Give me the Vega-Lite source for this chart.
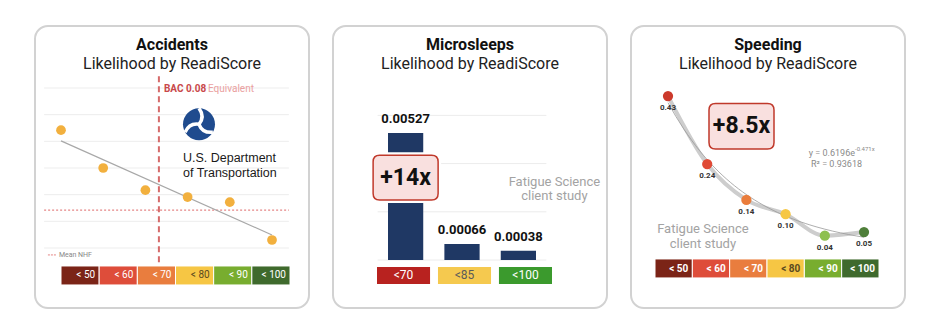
{
  "$schema": "https://vega.github.io/schema/vega-lite/v6.json",
  "background": "white",
  "padding": {"left": 34, "top": 25, "right": 0, "bottom": 0},
  "spacing": 22,
  "resolve": {"scale": {"x": "independent", "y": "independent", "color": "independent", "fill": "independent"}},
  "hconcat": [
    {
      "width": 274,
      "height": 282,
      "title": {"text": "Accidents", "subtitle": "Likelihood by ReadiScore"},
      "data": {"values": [
        {"band": "< 50", "bin_no": 1, "likelihood": 4.42},
        {"band": "< 60", "bin_no": 2, "likelihood": 3.0},
        {"band": "< 70", "bin_no": 3, "likelihood": 2.17},
        {"band": "< 80", "bin_no": 4, "likelihood": 1.91},
        {"band": "< 90", "bin_no": 5, "likelihood": 1.72},
        {"band": "< 100", "bin_no": 6, "likelihood": 0.3}
      ]},
      "resolve": {"scale": {"x": "independent"}},
      "layer": [
        {
          "layer": [
            {
              "data": {"values": [{"grid": 0}, {"grid": 1}, {"grid": 2}, {"grid": 3}, {"grid": 4}, {"grid": 5}, {"grid": 6}]},
              "mark": {"type": "rule", "color": "#ededed", "strokeWidth": 1},
              "encoding": {
                "x": {"datum": 0.6, "type": "quantitative", "scale": {"domain": [1, 6], "range": [26, 237], "nice": false, "zero": false}},
                "x2": {"datum": 6.4},
                "y": {"field": "grid", "type": "quantitative", "scale": {"domain": [0, 6], "range": [222, 62], "nice": false, "zero": false}}
              }
            },
            {
              "data": {"values": [{}]},
              "mark": {"type": "rule", "color": "#e58585", "strokeWidth": 1.2, "strokeDash": [2, 2]},
              "encoding": {"x": {"datum": 0.6}, "x2": {"datum": 6.4}, "y": {"datum": 1.42}}
            },
            {
              "data": {"values": [{}]},
              "mark": {"type": "rule", "color": "#d66a6a", "strokeWidth": 2, "strokeDash": [6, 4]},
              "encoding": {"x": {"datum": 3.32}, "y": {"datum": 6.44}, "y2": {"datum": -0.56}}
            },
            {
              "transform": [{"regression": "likelihood", "on": "bin_no"}],
              "mark": {"type": "line", "color": "#a8a8a8", "strokeWidth": 1.2},
              "encoding": {"x": {"field": "bin_no", "type": "quantitative"}, "y": {"field": "likelihood", "type": "quantitative"}}
            },
            {
              "mark": {"type": "circle", "size": 95, "color": "#f2b03e", "opacity": 1},
              "encoding": {"x": {"field": "bin_no", "type": "quantitative"}, "y": {"field": "likelihood", "type": "quantitative"}}
            },
            {
              "data": {"values": [{}]},
              "mark": {"type": "text", "text": "BAC 0.08", "align": "left", "baseline": "middle", "fontSize": 10, "fontWeight": "bold", "color": "#c9484a"},
              "encoding": {"x": {"datum": 3.44}, "y": {"datum": 5.95}}
            },
            {
              "data": {"values": [{}]},
              "mark": {"type": "text", "text": "Equivalent", "align": "left", "baseline": "middle", "dx": 44, "fontSize": 10, "color": "#eaa0a0"},
              "encoding": {"x": {"datum": 3.44}, "y": {"datum": 5.95}}
            },
            {
              "data": {"values": [{}]},
              "mark": {"type": "point", "shape": "circle", "size": 1024, "filled": true, "color": "#1f4b8e", "opacity": 1},
              "encoding": {"x": {"datum": 4.27}, "y": {"datum": 4.64}}
            },
            {
              "data": {"values": [{}]},
              "mark": {"type": "point", "shape": "M0,0Q0.39,-0.46 0,-1M0,0Q0.21,0.56 0.87,0.5M0,0Q-0.59,-0.1 -0.87,0.5", "size": 1024, "filled": false, "stroke": "white", "strokeWidth": 3.5, "opacity": 1},
              "encoding": {"x": {"datum": 4.27}, "y": {"datum": 4.64}}
            },
            {
              "data": {"values": [{}]},
              "mark": {"type": "text", "text": "U.S. Department", "align": "left", "baseline": "middle", "font": "Liberation Sans", "fontSize": 12.5, "color": "#1a1a1a"},
              "encoding": {"x": {"datum": 3.89}, "y": {"datum": 3.37}}
            },
            {
              "data": {"values": [{}]},
              "mark": {"type": "text", "text": "of Transportation", "align": "left", "baseline": "middle", "font": "Liberation Sans", "fontSize": 12.5, "color": "#1a1a1a"},
              "encoding": {"x": {"datum": 3.89}, "y": {"datum": 2.81}}
            },
            {
              "data": {"values": [{}]},
              "mark": {"type": "rule", "color": "#e58585", "strokeWidth": 1, "strokeDash": [2, 1]},
              "encoding": {"x": {"datum": 0.69}, "x2": {"datum": 0.88}, "y": {"datum": -0.26}}
            },
            {
              "data": {"values": [{}]},
              "mark": {"type": "text", "text": "Mean NHF", "align": "left", "baseline": "middle", "fontSize": 7, "color": "#888888"},
              "encoding": {"x": {"datum": 0.95}, "y": {"datum": -0.26}}
            }
          ]
        },
        {
          "layer": [
            {
              "mark": {"type": "rect", "stroke": "white", "strokeWidth": 1},
              "encoding": {
                "x": {"field": "band", "type": "nominal", "sort": null, "scale": {"type": "band", "domain": ["< 50", "< 60", "< 70", "< 80", "< 90", "< 100"], "range": [26, 255], "paddingInner": 0, "paddingOuter": 0}},
                "y": {"datum": -0.674},
                "y2": {"datum": -1.386},
                "color": {"field": "band", "type": "nominal", "scale": {"domain": ["< 50", "< 60", "< 70", "< 80", "< 90", "< 100"], "range": ["#7b2417", "#de4d3a", "#e97d3e", "#f6c644", "#78ad2f", "#3f6a2d"]}}
              }
            },
            {
              "mark": {"type": "text", "align": "right", "baseline": "middle", "dx": -4, "fontSize": 10},
              "encoding": {
                "x": {"field": "band", "type": "nominal", "sort": null, "bandPosition": 1},
                "y": {"datum": -1.03},
                "text": {"field": "band", "type": "nominal"},
                "color": {"condition": {"test": "datum.band === '< 80'", "value": "#5b4a1f"}, "value": "white"}
              }
            }
          ]
        }
      ]
    },
    {
      "width": 274,
      "height": 282,
      "title": {"text": "Microsleeps", "subtitle": "Likelihood by ReadiScore"},
      "data": {"values": [
        {"band": "<70", "rate": 0.00527},
        {"band": "<85", "rate": 0.00066},
        {"band": "<100", "rate": 0.00038}
      ]},
      "resolve": {"scale": {"x": "independent"}},
      "layer": [
        {
          "layer": [
            {
              "data": {"values": [{"grid": 0}, {"grid": 0.002}, {"grid": 0.004}, {"grid": 0.006}]},
              "mark": {"type": "rule", "color": "#ececec", "strokeWidth": 1, "xOffset": -28, "x2Offset": 28},
              "encoding": {
                "x": {"datum": "<70", "type": "nominal", "scale": {"type": "band", "domain": ["<70", "<85", "<100"], "range": [55, 203], "paddingInner": 0.375, "paddingOuter": 0}},
                "x2": {"datum": "<100"},
                "y": {"field": "grid", "type": "quantitative", "scale": {"domain": [0, 0.006], "range": [234, 89.4], "nice": false, "zero": false}}
              }
            },
            {
              "mark": {"type": "bar", "color": "#1f3864"},
              "encoding": {"x": {"field": "band", "type": "nominal", "sort": null}, "y": {"field": "rate", "type": "quantitative"}}
            },
            {
              "mark": {"type": "text", "fontSize": 13, "fontWeight": "bold", "baseline": "middle", "dy": -14, "color": "#111111"},
              "encoding": {
                "x": {"field": "band", "type": "nominal", "sort": null},
                "y": {"field": "rate", "type": "quantitative"},
                "text": {"field": "rate", "type": "quantitative", "format": ".5f"}
              }
            },
            {
              "data": {"values": [{}]},
              "mark": {"type": "point", "shape": "M-0.8,-0.69L0.8,-0.69Q1,-0.69 1,-0.49L1,0.49Q1,0.69 0.8,0.69L-0.8,0.69Q-1,0.69 -1,0.49L-1,-0.49Q-1,-0.69 -0.8,-0.69Z", "size": 4225, "filled": true, "color": "white", "stroke": "white", "strokeWidth": 6, "opacity": 1},
              "encoding": {"x": {"datum": "<70"}, "y": {"datum": 0.00342}}
            },
            {
              "data": {"values": [{}]},
              "mark": {"type": "point", "shape": "M-0.8,-0.69L0.8,-0.69Q1,-0.69 1,-0.49L1,0.49Q1,0.69 0.8,0.69L-0.8,0.69Q-1,0.69 -1,0.49L-1,-0.49Q-1,-0.69 -0.8,-0.69Z", "size": 4225, "filled": true, "color": "#f9e0df", "stroke": "#c0392b", "strokeWidth": 1.5, "opacity": 1},
              "encoding": {"x": {"datum": "<70"}, "y": {"datum": 0.00342}}
            },
            {
              "data": {"values": [{}]},
              "mark": {"type": "text", "text": "+14x", "fontSize": 23, "fontWeight": "bold", "baseline": "middle", "color": "#111111"},
              "encoding": {"x": {"datum": "<70"}, "y": {"datum": 0.00342}}
            },
            {
              "data": {"values": [{}]},
              "mark": {"type": "text", "text": "Fatigue Science", "fontSize": 13, "baseline": "middle", "dx": 36, "color": "#a3a3a3"},
              "encoding": {"x": {"datum": "<100"}, "y": {"datum": 0.003237}}
            },
            {
              "data": {"values": [{}]},
              "mark": {"type": "text", "text": "client study", "fontSize": 13, "baseline": "middle", "dx": 36, "color": "#a3a3a3"},
              "encoding": {"x": {"datum": "<100"}, "y": {"datum": 0.002656}}
            }
          ]
        },
        {
          "layer": [
            {
              "mark": {"type": "rect"},
              "encoding": {
                "x": {"field": "band", "type": "nominal", "sort": null, "scale": {"type": "band", "domain": ["<70", "<85", "<100"], "range": [44, 219], "paddingInner": 0.13, "paddingOuter": 0}},
                "y": {"datum": -0.00029},
                "y2": {"datum": -0.001},
                "color": {"field": "band", "type": "nominal", "scale": {"domain": ["<70", "<85", "<100"], "range": ["#b8221f", "#f5c94f", "#3b9a2d"]}}
              }
            },
            {
              "mark": {"type": "text", "fontSize": 12, "baseline": "middle"},
              "encoding": {
                "x": {"field": "band", "type": "nominal", "sort": null},
                "y": {"datum": -0.000643},
                "text": {"field": "band", "type": "nominal"},
                "color": {"condition": {"test": "datum.band === '<85'", "value": "#5a5a5a"}, "value": "white"}
              }
            }
          ]
        }
      ]
    },
    {
      "width": 274,
      "height": 282,
      "title": {"text": "Speeding", "subtitle": "Likelihood by ReadiScore"},
      "data": {"values": [
        {"band": "< 50", "bin_no": 1, "rate": 0.43},
        {"band": "< 60", "bin_no": 2, "rate": 0.24},
        {"band": "< 70", "bin_no": 3, "rate": 0.14},
        {"band": "< 80", "bin_no": 4, "rate": 0.10},
        {"band": "< 90", "bin_no": 5, "rate": 0.04},
        {"band": "< 100", "bin_no": 6, "rate": 0.05}
      ]},
      "resolve": {"scale": {"x": "independent"}},
      "layer": [
        {
          "layer": [
            {
              "mark": {"type": "line", "interpolate": "monotone", "color": "#cdcdcd", "strokeWidth": 4},
              "encoding": {
                "x": {"field": "bin_no", "type": "quantitative", "scale": {"domain": [1, 6], "range": [37, 233], "nice": false, "zero": false}},
                "y": {"field": "rate", "type": "quantitative", "scale": {"domain": [0, 0.5], "range": [224, 45], "nice": false, "zero": false}}
              }
            },
            {
              "transform": [{"regression": "rate", "on": "bin_no", "method": "exp"}],
              "mark": {"type": "line", "color": "#999999", "strokeWidth": 0.8},
              "encoding": {"x": {"field": "bin_no", "type": "quantitative"}, "y": {"field": "rate", "type": "quantitative"}}
            },
            {
              "mark": {"type": "circle", "size": 105, "opacity": 1},
              "encoding": {
                "x": {"field": "bin_no", "type": "quantitative"},
                "y": {"field": "rate", "type": "quantitative"},
                "fill": {"field": "band", "type": "nominal", "scale": {"domain": ["< 50", "< 60", "< 70", "< 80", "< 90", "< 100"], "range": ["#cc3a2c", "#e04a36", "#ea7d3c", "#f6c744", "#8dc04e", "#4f7f3a"]}}
              }
            },
            {
              "mark": {"type": "text", "fontSize": 8, "fontWeight": "bold", "dy": 12, "baseline": "middle", "color": "#333333"},
              "encoding": {
                "x": {"field": "bin_no", "type": "quantitative"},
                "y": {"field": "rate", "type": "quantitative"},
                "text": {"field": "rate", "type": "quantitative", "format": ".2f"}
              }
            },
            {
              "data": {"values": [{}]},
              "mark": {"type": "point", "shape": "M-0.8,-0.7L0.8,-0.7Q1,-0.7 1,-0.5L1,0.5Q1,0.7 0.8,0.7L-0.8,0.7Q-1,0.7 -1,0.5L-1,-0.5Q-1,-0.7 -0.8,-0.7Z", "size": 4225, "filled": true, "color": "#f9e0df", "stroke": "#c0392b", "strokeWidth": 1.5, "opacity": 1},
              "encoding": {"x": {"datum": 2.875}, "y": {"datum": 0.346}}
            },
            {
              "data": {"values": [{}]},
              "mark": {"type": "text", "text": "+8.5x", "fontSize": 23, "fontWeight": "bold", "baseline": "middle", "color": "#111111"},
              "encoding": {"x": {"datum": 2.875}, "y": {"datum": 0.346}}
            },
            {
              "data": {"values": [{}]},
              "mark": {"type": "text", "text": "y = 0.6196e", "align": "right", "baseline": "middle", "fontSize": 9, "color": "#8a8a8a"},
              "encoding": {"x": {"datum": 5.77}, "y": {"datum": 0.271}}
            },
            {
              "data": {"values": [{}]},
              "mark": {"type": "text", "text": "-0.471x", "align": "left", "baseline": "middle", "dy": -4, "fontSize": 6, "color": "#8a8a8a"},
              "encoding": {"x": {"datum": 5.77}, "y": {"datum": 0.271}}
            },
            {
              "data": {"values": [{}]},
              "mark": {"type": "text", "text": "R² = 0.93618", "baseline": "middle", "fontSize": 9, "color": "#8a8a8a"},
              "encoding": {"x": {"datum": 5.3}, "y": {"datum": 0.24}}
            },
            {
              "data": {"values": [{}]},
              "mark": {"type": "text", "text": "Fatigue Science", "baseline": "middle", "fontSize": 13, "color": "#a3a3a3"},
              "encoding": {"x": {"datum": 1.89}, "y": {"datum": 0.0587}}
            },
            {
              "data": {"values": [{}]},
              "mark": {"type": "text", "text": "client study", "baseline": "middle", "fontSize": 13, "color": "#a3a3a3"},
              "encoding": {"x": {"datum": 1.89}, "y": {"datum": 0.0168}}
            }
          ]
        },
        {
          "layer": [
            {
              "mark": {"type": "rect", "stroke": "white", "strokeWidth": 1},
              "encoding": {
                "x": {"field": "band", "type": "nominal", "sort": null, "scale": {"type": "band", "domain": ["< 50", "< 60", "< 70", "< 80", "< 90", "< 100"], "range": [24, 248], "paddingInner": 0, "paddingOuter": 0}},
                "y": {"datum": -0.025},
                "y2": {"datum": -0.078},
                "color": {"field": "band", "type": "nominal", "scale": {"domain": ["< 50", "< 60", "< 70", "< 80", "< 90", "< 100"], "range": ["#7b2417", "#de4d3a", "#e97d3e", "#f6c644", "#78ad2f", "#3f6a2d"]}}
              }
            },
            {
              "mark": {"type": "text", "align": "right", "baseline": "middle", "dx": -4, "fontSize": 10, "fontWeight": "bold"},
              "encoding": {
                "x": {"field": "band", "type": "nominal", "sort": null, "bandPosition": 1},
                "y": {"datum": -0.052},
                "text": {"field": "band", "type": "nominal"},
                "color": {"condition": {"test": "datum.band === '< 80'", "value": "#5b4a1f"}, "value": "white"}
              }
            }
          ]
        }
      ]
    }
  ],
  "config": {
    "font": "Roboto",
    "view": {"stroke": "#d2d2d2", "strokeWidth": 2, "cornerRadius": 13},
    "axis": {"disable": true},
    "legend": {"disable": true},
    "title": {
      "font": "Roboto",
      "fontSize": 16,
      "fontWeight": "bold",
      "color": "#111111",
      "subtitleFont": "Roboto",
      "subtitleFontSize": 16,
      "subtitleColor": "#222222",
      "subtitlePadding": 3,
      "offset": -46,
      "anchor": "middle",
      "frame": "group"
    }
  }
}
